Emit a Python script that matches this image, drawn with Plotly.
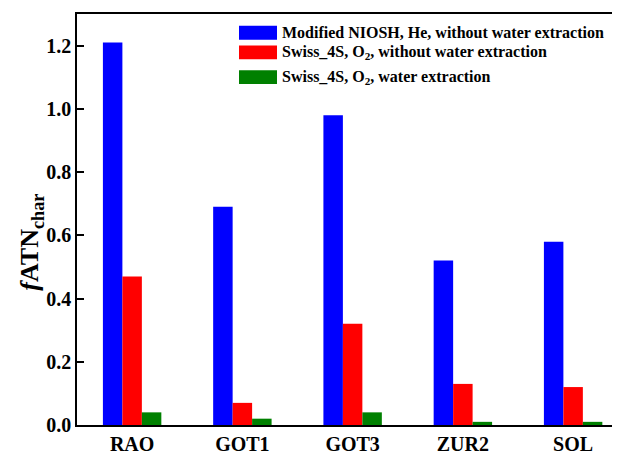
import plotly.graph_objects as go

categories = ["RAO", "GOT1", "GOT3", "ZUR2", "SOL"]
series_names = [
    "Modified NIOSH, He, without water extraction",
    "Swiss_4S, O<sub>2</sub>, without water extraction",
    "Swiss_4S, O<sub>2</sub>, water extraction",
]
niosh_he_no_water = [1.21, 0.69, 0.98, 0.52, 0.58]
swiss_o2_no_water = [0.47, 0.07, 0.32, 0.13, 0.12]
swiss_o2_water = [0.04, 0.02, 0.04, 0.01, 0.01]
colors = ["#0000FF", "#FF0000", "#008000"]
y_ticks = [0.0, 0.2, 0.4, 0.6, 0.8, 1.0, 1.2]

FONT = "Liberation Serif"
OFF = 8  # page body margin
W, H = 620 - OFF, 455 - OFF
ml, mr, mt, mb = 77 - OFF, 0, 14 - OFF, 24
CAT_PX = 110.25  # pixel width of one category in the reference (plot runs past the right edge)

fig = go.Figure()
for name, vals, col in zip(series_names, [niosh_he_no_water, swiss_o2_no_water, swiss_o2_water], colors):
    fig.add_trace(go.Bar(x=categories, y=vals, name=name, marker=dict(color=col, line=dict(width=0)),
                         showlegend=False))

# custom legend (wide swatches); positions given in page pixels
pw, ph = W - ml - mr, H - mt - mb
def px2x(px):
    return (px - OFF - ml) / pw
def px2y(py):
    return 1 - (py - OFF - mt) / ph

rows_y = [33, 53, 78]
for name, col, ry in zip(series_names, colors, rows_y):
    fig.add_shape(type="rect", xref="paper", yref="paper",
                  x0=px2x(239), x1=px2x(277), y0=px2y(ry + 7), y1=px2y(ry - 7),
                  fillcolor=col, line=dict(width=0))
    fig.add_annotation(xref="paper", yref="paper", x=px2x(280), y=px2y(ry),
                       text="<b>" + name + "</b>", showarrow=False, xanchor="left", yanchor="middle",
                       font=dict(family=FONT, size=16, color="black"))

# y-axis title as annotation (sits lower than the plot centre in the reference)
fig.add_annotation(xref="paper", yref="paper", x=px2x(31), y=px2y(246),
                   text="<b><i>f</i>ATN<sub>char</sub></b>", textangle=-90, showarrow=False,
                   xanchor="center", yanchor="middle",
                   font=dict(family=FONT, size=26, color="black"))

fig.update_layout(
    width=W, height=H,
    margin=dict(l=ml, r=mr, t=mt, b=mb),
    paper_bgcolor="white", plot_bgcolor="white",
    barmode="group", bargap=0.47, bargroupgap=0,
    font=dict(family=FONT, color="black"),
)
fig.update_xaxes(showline=True, linecolor="black", linewidth=1.5, mirror=True, ticks="",
                 range=[-0.5, -0.5 + pw / CAT_PX],
                 showgrid=False, tickfont=dict(family=FONT, size=20, color="black"),
                 tickprefix="<b>", ticksuffix="</b>")
fig.update_yaxes(range=[0, 1.3], showline=True, linecolor="black", linewidth=1.5, mirror=False,
                 ticks="inside", ticklen=7, tickwidth=1.5, tickcolor="black",
                 tickvals=y_ticks, ticktext=["<b>%.1f</b>" % v for v in y_ticks],
                 showgrid=False, zeroline=False,
                 tickfont=dict(family=FONT, size=20, color="black"))

fig.write_html("out.html")
